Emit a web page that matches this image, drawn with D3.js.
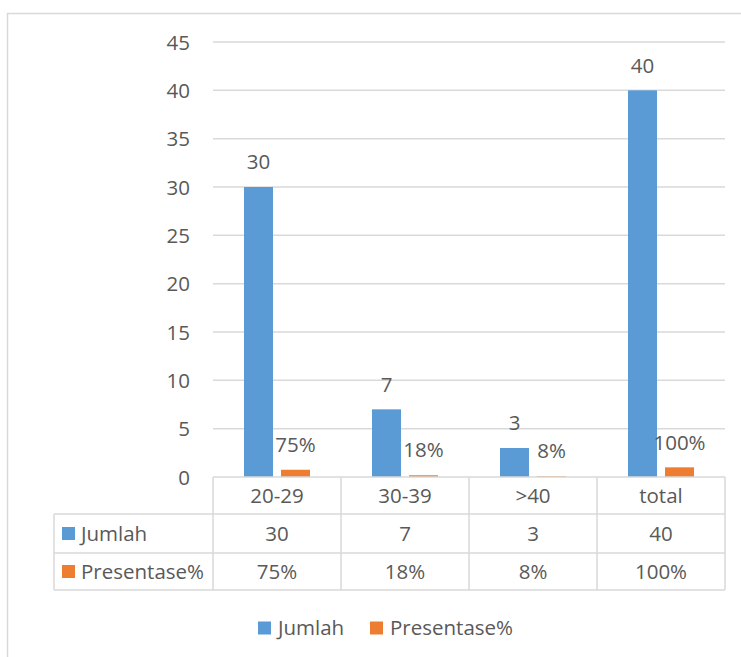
<!DOCTYPE html>
<html>
<head>
<meta charset="utf-8">
<script src="https://cdn.jsdelivr.net/npm/d3@7"></script>
<style>
  html, body { margin: 0; padding: 0; background: #ffffff; }
  svg { display: block; }
  text { font-family: "Open Sans", sans-serif; fill: #595959; }
</style>
</head>
<body>
<script>
// Age groups and their counts / shares
const categories = ["20-29", "30-39", ">40", "total"];
const jumlah = [30, 7, 3, 40];
const presentase = [0.75, 0.18, 0.08, 1.00];
const seriesNames = ["Jumlah", "Presentase%"];
const seriesColors = ["#5B9BD5", "#ED7D31"];
const yTicks = [0, 5, 10, 15, 20, 25, 30, 35, 40, 45];

const W = 741, H = 657;
const fontSize = 20.5;
const pctFmt = d3.format(".0%");

const svg = d3.select("body").append("svg")
  .attr("width", W).attr("height", H);

// chart frame
svg.append("rect")
  .attr("x", 7.5).attr("y", 13.5)
  .attr("width", W).attr("height", H)
  .attr("fill", "none").attr("stroke", "#D9D9D9").attr("stroke-width", 1.5);

const plot = { left: 213, right: 725, top: 42, bottom: 477 };

const y = d3.scaleLinear().domain([0, 45]).range([plot.bottom, plot.top]);
const x = d3.scaleBand().domain(categories).range([plot.left, plot.right]).padding(0);
const xs = d3.scaleBand().domain(seriesNames).range([0, x.bandwidth()])
  .paddingInner(8 / 37).paddingOuter(31 / 37);

// gridlines
svg.append("g").selectAll("line").data(yTicks.slice(1)).join("line")
  .attr("x1", plot.left).attr("x2", plot.right)
  .attr("y1", d => y(d)).attr("y2", d => y(d))
  .attr("stroke", "#D9D9D9").attr("stroke-width", 1.5);

// y axis labels
const yAxis = d3.axisLeft(y).tickValues(yTicks).tickSize(0).tickPadding(0);
const gy = svg.append("g").attr("transform", "translate(190,0)").call(yAxis);
gy.select(".domain").remove();
gy.selectAll("text")
  .attr("font-size", fontSize).attr("font-family", "Open Sans, sans-serif")
  .attr("fill", "#595959").attr("dy", "0.35em").attr("x", 0);

const seriesData = [jumlah, presentase];
const labelFmt = [d => String(d), d => pctFmt(d)];

seriesData.forEach((vals, si) => {
  const g = svg.append("g");
  g.selectAll("rect").data(vals).join("rect")
    .attr("x", (d, i) => x(categories[i]) + xs(seriesNames[si]))
    .attr("width", xs.bandwidth())
    .attr("y", d => y(d))
    .attr("height", d => y(0) - y(d))
    .attr("fill", seriesColors[si]);
  g.selectAll("text").data(vals).join("text")
    .attr("x", (d, i) => x(categories[i]) + xs(seriesNames[si]) + xs.bandwidth() / 2)
    .attr("y", d => y(d) - 25)
    .attr("dy", "0.35em")
    .attr("text-anchor", "middle")
    .attr("font-size", fontSize)
    .text(labelFmt[si]);
});

// data table beneath the plot
const rowH = [477, 514, 553, 590];
const tableLeft = 54;
const tbl = svg.append("g").attr("stroke", "#D9D9D9").attr("stroke-width", 1.5).attr("fill", "none");

// horizontal rules
tbl.append("line").attr("x1", plot.left).attr("x2", plot.right).attr("y1", rowH[0]).attr("y2", rowH[0]);
[rowH[1], rowH[2], rowH[3]].forEach(yy =>
  tbl.append("line").attr("x1", tableLeft).attr("x2", plot.right).attr("y1", yy).attr("y2", yy));
// vertical rules
tbl.append("line").attr("x1", tableLeft).attr("x2", tableLeft).attr("y1", rowH[1]).attr("y2", rowH[3]);
categories.concat(["_end"]).forEach((c, i) => {
  const xx = plot.left + i * x.step();
  tbl.append("line").attr("x1", xx).attr("x2", xx).attr("y1", rowH[0]).attr("y2", rowH[3]);
});

// category header row
svg.append("g").selectAll("text").data(categories).join("text")
  .attr("x", d => x(d) + x.bandwidth() / 2)
  .attr("y", (rowH[0] + rowH[1]) / 2)
  .attr("dy", "0.35em").attr("text-anchor", "middle").attr("font-size", fontSize)
  .text(d => d);

// value rows
seriesData.forEach((vals, si) => {
  const cy = (rowH[si + 1] + rowH[si + 2]) / 2;
  const g = svg.append("g");
  g.append("rect").attr("x", 62).attr("y", cy - 6.5).attr("width", 13).attr("height", 13)
    .attr("fill", seriesColors[si]);
  g.append("text").attr("x", 81).attr("y", cy).attr("dy", "0.35em").attr("font-size", fontSize)
    .text(seriesNames[si]);
  g.selectAll("text.v").data(vals).join("text").attr("class", "v")
    .attr("x", (d, i) => x(categories[i]) + x.bandwidth() / 2)
    .attr("y", cy).attr("dy", "0.35em").attr("text-anchor", "middle").attr("font-size", fontSize)
    .text(labelFmt[si]);
});

// legend
const legendY = 628;
const legendX = [258, 370];
seriesNames.forEach((name, si) => {
  svg.append("rect").attr("x", legendX[si]).attr("y", legendY - 6.5)
    .attr("width", 13).attr("height", 13).attr("fill", seriesColors[si]);
  svg.append("text").attr("x", legendX[si] + 20).attr("y", legendY).attr("dy", "0.35em")
    .attr("font-size", fontSize).text(name);
});
</script>
</body>
</html>
